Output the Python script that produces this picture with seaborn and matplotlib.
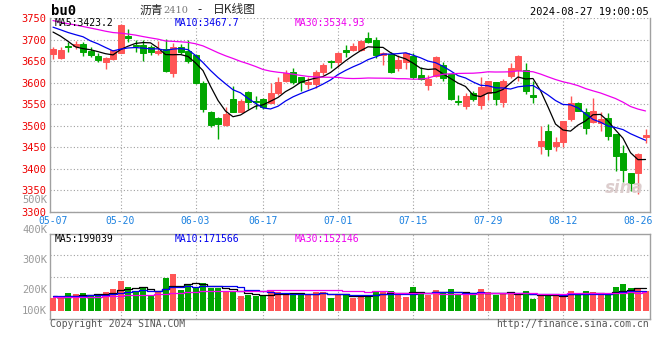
import numpy as np
import pandas as pd
import matplotlib
matplotlib.use("Agg")
import matplotlib.pyplot as plt
import seaborn as sns

sns.set_style("white")
plt.rcParams["font.family"] = ["DejaVu Sans Mono", "DejaVu Sans"]

# ---------------- data ----------------
open_ = [3666, 3658, 3685, 3685, 3689, 3673, 3662, 3649, 3655, 3669,
         3708, 3687, 3687, 3682, 3668, 3678, 3622, 3682, 3673, 3664,
         3599, 3533, 3519, 3501, 3561, 3533, 3578, 3558, 3561, 3553,
         3575, 3605, 3625, 3612, 3597, 3597, 3624, 3651, 3649, 3676,
         3676, 3676, 3704, 3699, 3664, 3666, 3633, 3649, 3662, 3618,
         3594, 3616, 3641, 3620, 3558, 3547, 3576, 3549, 3575, 3601,
         3555, 3616, 3630, 3630, 3572, 3453, 3488, 3453, 3463, 3515,
         3553, 3532, 3509, 3506, 3517, 3480, 3438, 3391, 3391, 3474]
high = [3683, 3683, 3695, 3696, 3695, 3682, 3668, 3659, 3676, 3735,
        3725, 3698, 3700, 3687, 3696, 3701, 3693, 3689, 3699, 3667,
        3604, 3534, 3520, 3544, 3593, 3561, 3581, 3568, 3565, 3599,
        3613, 3630, 3633, 3614, 3614, 3630, 3645, 3653, 3672, 3687,
        3691, 3699, 3718, 3706, 3672, 3672, 3664, 3670, 3668, 3637,
        3618, 3663, 3647, 3621, 3572, 3575, 3580, 3612, 3605, 3601,
        3609, 3646, 3664, 3646, 3603, 3499, 3505, 3473, 3512, 3568,
        3555, 3542, 3564, 3532, 3530, 3480, 3455, 3391, 3436, 3492]
low = [3656, 3655, 3672, 3679, 3662, 3659, 3649, 3632, 3652, 3668,
       3695, 3672, 3650, 3664, 3664, 3624, 3614, 3666, 3645, 3596,
       3531, 3498, 3470, 3499, 3531, 3532, 3539, 3540, 3538, 3552,
       3572, 3601, 3598, 3580, 3586, 3587, 3618, 3633, 3637, 3660,
       3674, 3673, 3693, 3658, 3641, 3623, 3626, 3632, 3609, 3607,
       3584, 3614, 3605, 3559, 3549, 3540, 3558, 3538, 3559, 3549,
       3543, 3610, 3603, 3574, 3553, 3434, 3431, 3442, 3450, 3511,
       3534, 3480, 3507, 3488, 3467, 3395, 3369, 3349, 3341, 3460]
close = [3677, 3675, 3682, 3689, 3672, 3664, 3653, 3658, 3675, 3733,
         3704, 3685, 3668, 3672, 3673, 3628, 3683, 3670, 3650, 3599,
         3538, 3502, 3505, 3527, 3533, 3558, 3555, 3554, 3543, 3575,
         3601, 3623, 3602, 3602, 3602, 3624, 3641, 3649, 3669, 3670,
         3685, 3697, 3695, 3664, 3668, 3624, 3653, 3668, 3614, 3609,
         3609, 3660, 3610, 3561, 3555, 3570, 3561, 3591, 3603, 3561,
         3605, 3635, 3662, 3580, 3566, 3465, 3446, 3463, 3511, 3553,
         3535, 3494, 3535, 3515, 3476, 3431, 3398, 3368, 3434, 3478]
volume_k = [113, 107, 153, 144, 153, 127, 144, 161, 187, 254,
            203, 170, 192, 127, 161, 280, 314, 178, 229, 203,
            237, 192, 195, 158, 158, 127, 133, 127, 127, 178,
            164, 136, 136, 153, 136, 164, 164, 110, 136, 133,
            110, 127, 136, 170, 161, 170, 144, 119, 203, 153,
            136, 178, 153, 187, 136, 136, 136, 187, 161, 136,
            153, 153, 136, 170, 102, 136, 136, 144, 127, 170,
            136, 170, 161, 136, 136, 203, 229, 195, 195, 170]
# estimated history before the window (only used for moving averages)
prior_close = [3790, 3785, 3775, 3780, 3770, 3760, 3772, 3768, 3775, 3765,
               3760, 3770, 3765, 3760, 3755, 3710, 3700, 3690, 3695, 3688,
               3735, 3745, 3740, 3720, 3760, 3722, 3742, 3754, 3692]
prior_volume_k = [105, 110, 100, 115, 108, 112, 104, 118, 110, 106,
                  112, 100, 108, 115, 110, 104, 112, 108, 110, 125,
                  130, 122, 135, 128, 118, 140, 126, 120, 132]

tick_dates = ["05-07", "05-20", "06-03", "06-17", "07-01",
              "07-15", "07-29", "08-12", "08-26"]
title_parts = ["沥青", "2410", "-", "日K线图"]
price_legend = ["MA5:3423.2", "MA10:3467.7", "MA30:3534.93"]
vol_legend = ["MA5:199039", "MA10:171566", "MA30:152146"]
vol_axis_labels = ["500K", "400K", "300K", "200K", "100K"]

# ---------------- derived ----------------
days = pd.bdate_range("2024-05-07", "2024-08-27")
days = days[days != pd.Timestamp("2024-06-10")]
labels = days.strftime("%m-%d")
n = len(close)
x = np.arange(n)
o = np.array(open_, float); c = np.array(close, float)
h = np.array(high, float); l = np.array(low, float)
v = np.array(volume_k, float) * 1000

allc = pd.Series(prior_close + close, dtype=float)
allv = pd.Series(prior_volume_k + volume_k, dtype=float) * 1000
k = len(prior_close)
df = pd.DataFrame({
    "x": x,
    "ma5": allc.rolling(5).mean().values[k:],
    "ma10": allc.rolling(10).mean().values[k:],
    "ma30": allc.rolling(30).mean().values[k:],
    "vma5": allv.rolling(5).mean().values[k:],
    "vma10": allv.rolling(10).mean().values[k:],
    "vma30": allv.rolling(30).mean().values[k:],
})

RED = "#ff5555"
GREEN = "#00a600"
GRID = "#a0a0a0"
cols = np.where(c >= o, RED, GREEN)

W, H = 660, 360
fig = plt.figure(figsize=(6.6, 3.6), dpi=100, facecolor="white")
fx = lambda px: px / W
fy = lambda py: 1 - py / H

ax = fig.add_axes([fx(50), fy(212), 600 / W, 194 / H])
axv = fig.add_axes([fx(50), fy(319), 600 / W, 85 / H])

# ---------------- price panel ----------------
ax.vlines(x, l, h, colors=cols, lw=1, zorder=3)
ax.bar(x, np.abs(c - o), bottom=np.minimum(o, c), width=0.8, color=cols,
       edgecolor=cols, linewidth=0.7, zorder=4)
sns.lineplot(data=df, x="x", y="ma5", ax=ax, color="black", lw=0.9, zorder=5)
sns.lineplot(data=df, x="x", y="ma10", ax=ax, color="#0000ee", lw=0.9, zorder=5)
sns.lineplot(data=df, x="x", y="ma30", ax=ax, color="#ee00ee", lw=0.9, zorder=5)

ax.set_xlim(-0.4, 79.6)
ax.set_ylim(3300, 3750)
ax.set_yticks(np.arange(3300, 3751, 50))
ax.set_yticklabels([str(t) for t in range(3300, 3751, 50)])
tick_pos = [int(np.where(labels == d)[0][0]) for d in tick_dates]
ax.set_xticks(tick_pos)
ax.set_xticklabels(tick_dates)
ax.tick_params(axis="y", length=0, pad=3, labelsize=7.5, labelcolor="#ee0000")
ax.tick_params(axis="x", length=0, pad=3, labelsize=7, labelcolor="#1a80e0")
ax.grid(True, ls=(0, (1, 2)), color=GRID, lw=0.8)
gl = ax.xaxis.get_gridlines()
gl[0].set_visible(False); gl[-1].set_visible(False)
ax.set_xlabel(""); ax.set_ylabel("")
for s in ["left", "bottom", "right"]:
    ax.spines[s].set_color(GRID); ax.spines[s].set_linewidth(1)
ax.spines["top"].set_visible(False)
ax.set_facecolor("none")

# ---------------- volume panel ----------------
axv.bar(x, v, width=0.8, color=cols, linewidth=0, zorder=3)
sns.lineplot(data=df, x="x", y="vma5", ax=axv, color="black", lw=0.9,
             drawstyle="steps-mid", zorder=5)
sns.lineplot(data=df, x="x", y="vma10", ax=axv, color="#0000ee", lw=0.9,
             drawstyle="steps-mid", zorder=5)
sns.lineplot(data=df, x="x", y="vma30", ax=axv, color="#ee00ee", lw=0.9,
             drawstyle="steps-mid", zorder=5)
axv.set_xlim(-0.4, 79.6)
lo, hi = -68000, 652000
axv.set_ylim(lo, hi)
axv.set_yticks(np.linspace(lo, hi, 5)[1:-1])
axv.set_xticks(tick_pos)
axv.set_yticklabels([]); axv.set_xticklabels([])
axv.tick_params(length=0)
axv.grid(True, ls=(0, (1, 2)), color=GRID, lw=0.8)
g2 = axv.xaxis.get_gridlines()
g2[0].set_visible(False); g2[-1].set_visible(False)
axv.set_xlabel(""); axv.set_ylabel("")
for s in axv.spines.values():
    s.set_color(GRID); s.set_linewidth(1)

# ---------------- texts ----------------
mono = ["DejaVu Sans Mono"]
cjk = ["Noto Sans CJK SC", "DejaVu Sans"]
fig.text(fx(51), fy(11), "bu0", fontsize=10, fontweight="bold", family=mono,
         va="center", ha="left", color="black")
fig.text(fx(140), fy(10), title_parts[0], fontsize=8.5, family=cjk, va="center", ha="left")
fig.text(fx(163), fy(10.5), title_parts[1], fontsize=7, family=["DejaVu Serif"],
         va="center", ha="left", color="#777777")
fig.text(fx(200), fy(10), title_parts[2], fontsize=8.5, family=cjk, va="center", ha="center")
fig.text(fx(213), fy(10), title_parts[3], fontsize=8.5, family=cjk, va="center", ha="left")
fig.text(fx(649), fy(12), "2024-08-27 19:00:05", fontsize=7.5, family=mono,
         va="center", ha="right", color="black")

fig.text(fx(55), fy(23), price_legend[0], fontsize=7, family=mono, va="center", color="black")
fig.text(fx(175), fy(23), price_legend[1], fontsize=7, family=mono, va="center", color="#0000ee")
fig.text(fx(295), fy(23), price_legend[2], fontsize=7, family=mono, va="center", color="#ee00ee")

fig.text(fx(55), fy(239), vol_legend[0], fontsize=7, family=mono, va="center", color="black")
fig.text(fx(175), fy(239), vol_legend[1], fontsize=7, family=mono, va="center", color="#0000ee")
fig.text(fx(295), fy(239), vol_legend[2], fontsize=7, family=mono, va="center", color="#ee00ee")

for lab, py in zip(vol_axis_labels, [200, 230, 260, 290, 311]):
    fig.text(fx(47), fy(py), lab, fontsize=7.5, family=mono, va="center",
             ha="right", color="#999999")

fig.text(fx(50), fy(324), "Copyright 2024 SINA.COM", fontsize=7, family=mono,
         va="center", ha="left", color="#555555")
fig.text(fx(649), fy(324), "http://finance.sina.com.cn", fontsize=7, family=mono,
         va="center", ha="right", color="#555555")
fig.text(fx(624), fy(188), "sina", fontsize=12, fontweight="bold", style="italic",
         family=["DejaVu Sans"], va="center", ha="center", color="#d9c8c8", alpha=0.9)

fig.savefig("out.png", dpi=100, facecolor="white")
